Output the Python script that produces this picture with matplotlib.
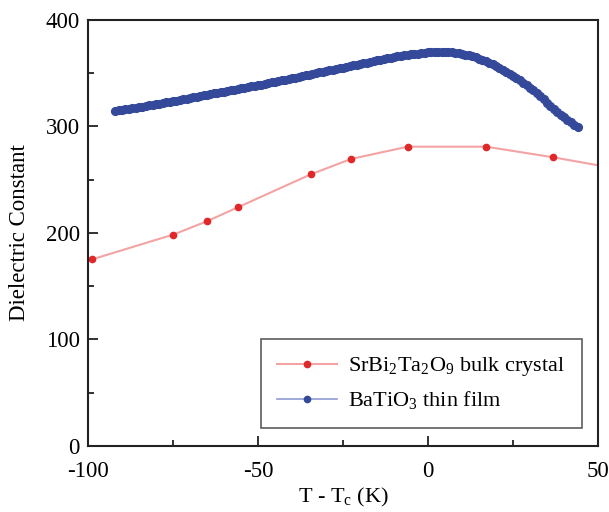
import numpy as np
import matplotlib
matplotlib.use("Agg")
import matplotlib.pyplot as plt
from matplotlib.ticker import MultipleLocator

plt.rcParams['font.family'] = ['Liberation Serif', 'DejaVu Serif']
plt.rcParams['mathtext.fontset'] = 'custom'
plt.rcParams['mathtext.rm'] = 'Liberation Serif'
plt.rcParams['mathtext.it'] = 'Liberation Serif:italic'
plt.rcParams['axes.unicode_minus'] = False

# SrBi2Ta2O9 bulk crystal (last point lies past the axis edge)
sbt_t = [-98.7, -74.9, -65.0, -56.0, -34.5, -22.6, -6.0, 17.1, 36.9, 58.0]
sbt_k = [175.3, 198.5, 211.0, 224.0, 255.0, 269.5, 281.0, 281.0, 271.0, 259.0]

# BaTiO3 thin film, read every 1 K from -92 to 44
bto_t = list(range(-92, 45))
bto_k = [314.5, 315.0, 315.5, 316.0, 316.5, 317.0, 317.5, 318.0, 318.5, 319.1,
         319.8, 320.4, 321.0, 321.5, 322.0, 322.6, 323.2, 323.7, 324.3, 324.9,
         325.5, 326.1, 326.8, 327.4, 328.0, 328.6, 329.2, 329.8, 330.4, 331.0,
         331.6, 332.2, 332.8, 333.4, 334.0, 334.6, 335.2, 335.8, 336.4, 337.0,
         337.6, 338.2, 338.8, 339.4, 340.0, 340.6, 341.3, 341.9, 342.6, 343.2,
         343.9, 344.5, 345.2, 345.8, 346.5, 347.2, 347.9, 348.6, 349.3, 350.0,
         350.7, 351.3, 352.0, 352.6, 353.3, 353.9, 354.6, 355.2, 355.9, 356.6,
         357.3, 357.9, 358.6, 359.3, 360.0, 360.7, 361.4, 362.0, 362.7, 363.3,
         364.0, 364.6, 365.2, 365.7, 366.3, 366.8, 367.3, 367.7, 368.2, 368.5,
         368.9, 369.2, 369.5, 369.8, 370.0, 370.0, 370.0, 369.9, 369.8, 369.5,
         369.2, 368.7, 368.2, 367.5, 366.8, 365.8, 364.8, 363.7, 362.5, 361.2,
         359.8, 358.2, 356.5, 354.8, 353.0, 351.3, 349.5, 347.5, 345.5, 343.3,
         341.0, 338.8, 336.5, 333.8, 331.0, 328.3, 325.5, 322.2, 319.0, 316.2,
         313.5, 311.0, 308.5, 306.2, 304.0, 301.7, 299.5]

fig = plt.figure(figsize=(6.09, 5.12), dpi=100)
ax = fig.add_axes([0.1445, 0.129, 0.8375, 0.832])

ax.plot(sbt_t, sbt_k, color='#f4a3a3', lw=1.5, marker='o', ms=4.5,
        mfc='#e0282a', mec='#e0282a', label='SrBi$_2$Ta$_2$O$_9$ bulk crystal')
ax.plot(bto_t, bto_k, color='#8d9bd6', lw=1.2, marker='o', ms=5.6,
        mfc='#34499a', mec='#34499a', label='BaTiO$_3$ thin film')

ax.set_xlim(-100, 50)
ax.set_ylim(0, 400)
ax.xaxis.set_major_locator(MultipleLocator(50))
ax.xaxis.set_minor_locator(MultipleLocator(25))
ax.yaxis.set_major_locator(MultipleLocator(100))
ax.yaxis.set_minor_locator(MultipleLocator(50))
ax.tick_params(which='both', direction='in', top=False, right=False,
               labelsize=16.5, color='#222222', width=1.3)
ax.tick_params(axis='x', which='major', length=7, pad=11)
ax.tick_params(axis='y', which='major', length=7, pad=6)
ax.tick_params(which='minor', length=4)
for s in ax.spines.values():
    s.set_linewidth(1.5)
    s.set_color('#222222')

ax.set_xlabel(r'T - T$_\mathrm{c}$ (K)', fontsize=16, labelpad=3)
ax.set_ylabel('Dielectric Constant', fontsize=16.5, labelpad=11)

leg = ax.legend(loc='lower right', bbox_to_anchor=(0.969, 0.042),
                borderaxespad=0, fontsize=16, numpoints=1, handlelength=2.7,
                fancybox=False, borderpad=0.75, labelspacing=0.5,
                handletextpad=0.5)
leg.get_frame().set_edgecolor('#333333')
leg.get_frame().set_linewidth(1.2)
for h in leg.legend_handles:
    h.set_markersize(4.5)

fig.savefig('out.png', dpi=100)
